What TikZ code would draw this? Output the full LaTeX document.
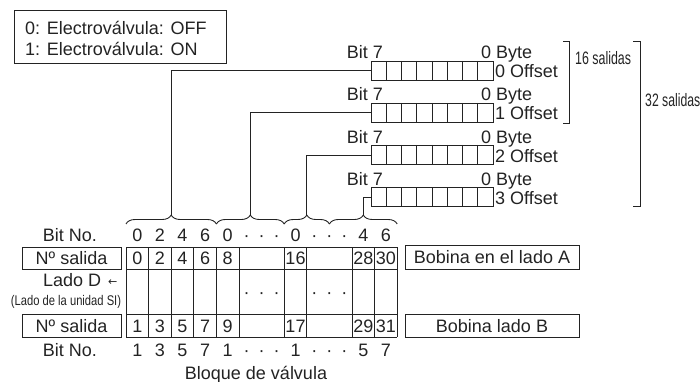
\documentclass[tikz,border=0pt]{standalone}
\usepackage{graphicx}
\usepackage{fontspec}
\setmainfont{Liberation Sans}
\newfontfamily\arrowfont{DejaVu Sans}
\usetikzlibrary{decorations.pathreplacing,calc}
\definecolor{ink}{HTML}{232323}
\tikzset{
  txt/.style={inner sep=0pt, font=\fontsize{18}{20}\selectfont, text height=13pt, text depth=0pt},
  framebox/.style={draw, line width=0.9pt, inner sep=0pt},
  bytebox/.style={draw, line width=0.9pt, minimum width=122pt, minimum height=19pt, inner sep=0pt},
  conn/.style={line width=0.9pt},
  bracedec/.style={decorate, decoration={brace, amplitude=9pt}, line width=0.9pt},
  gridline/.style={line width=1pt},
}
\begin{document}
\begin{tikzpicture}[x=1pt,y=-1pt,color=ink]
\useasboundingbox (0,0) rectangle (700,382);

% legend
\node[framebox, minimum width=212pt, minimum height=53pt, anchor=north west] (legend) at (14,10) {};
\node[txt, anchor=west] (l1) at (25,28.5) {0: Electroválvula: OFF};
\node[txt, anchor=west] (l2) at (25,49.5) {1: Electroválvula: ON};

% byte registers
\foreach \k/\T in {0/61,1/103,2/145,3/187} {
  \node[bytebox, anchor=north west] (b\k) at (371,\T) {};
  \foreach \i in {1,...,7}
    \draw[line width=0.9pt] ($(b\k.north west)+(\i*15.25,0)$) -- ($(b\k.south west)+(\i*15.25,0)$);
  \node[txt, anchor=east] (bit\k) at (383,\T-8.5) {Bit 7};
  \node[txt, anchor=west] (byte\k) at (481,\T-8.5) {0 Byte};
  \node[txt, anchor=west] (off\k) at (495,\T+10.5) {\k\ Offset};
}

% brackets
\draw[line width=0.9pt] (563,41) -- (569,41) -- (569,123) -- (563,123);
\draw[line width=0.9pt] (633,41) -- (640,41) -- (640,206) -- (633,206);
\node[txt, anchor=west] (s16) at (575,58) {\scalebox{0.69}[1]{16 salidas}};
\node[txt, anchor=west] (s32) at (645,100) {\scalebox{0.68}[1]{32 salidas}};

% braces
\draw[bracedec] (126,224) -- (216.4,224);
\draw[bracedec] (216.4,224) -- (284.2,224);
\draw[bracedec] (284.2,224) -- (329.4,224);
\draw[bracedec] (329.4,224) -- (397.2,224);
\coordinate (t0) at (171.2,215);
\coordinate (t1) at (250.3,215);
\coordinate (t2) at (306.8,215);
\coordinate (t3) at (363.3,215);

% connectors
\draw[conn] (b0.west) -| (t0);
\draw[conn] (b1.west) -| (t1);
\draw[conn] (b2.west) -| (t2);
\draw[conn] (b3.west) -| (t3);

% table grid
\foreach \u in {0,1,2,3,4,5,7,8,10,11,12}
  \draw[gridline] ({126+22.6*\u},247) -- ({126+22.6*\u},337);
\foreach \y in {247,269,314,337}
  \draw[gridline] (126,\y) -- (397.2,\y);

% top bit numbers
\foreach \u/\t [count=\n] in {0.5/0,1.5/2,2.5/4,3.5/6,4.5/0,7.5/0,10.5/4,11.5/6}
  \node[txt] (tb\n) at ({126+22.6*\u},235) {\t};
\node[txt] (tdA) at (261.6,235) {·\hspace{9pt}·\hspace{9pt}·};
\node[txt] (tdB) at (329.4,235) {·\hspace{9pt}·\hspace{9pt}·};

% row A outputs
\foreach \u/\t [count=\n] in {0.5/0,1.5/2,2.5/4,3.5/6,4.5/8,7.5/16,10.5/28,11.5/30}
  \node[txt] (ra\n) at ({126+22.6*\u},258) {\t};
% middle row dots
\node[txt] (mdA) at (261.6,292) {·\hspace{9pt}·\hspace{9pt}·};
\node[txt] (mdB) at (329.4,292) {·\hspace{9pt}·\hspace{9pt}·};
% row B outputs
\foreach \u/\t [count=\n] in {0.5/1,1.5/3,2.5/5,3.5/7,4.5/9,7.5/17,10.5/29,11.5/31}
  \node[txt] (rb\n) at ({126+22.6*\u},325.5) {\t};

% bottom bit numbers
\foreach \u/\t [count=\n] in {0.5/1,1.5/3,2.5/5,3.5/7,4.5/1,7.5/1,10.5/5,11.5/7}
  \node[txt] (bb\n) at ({126+22.6*\u},349.5) {\t};
\node[txt] (bdA) at (261.6,349.5) {·\hspace{9pt}·\hspace{9pt}·};
\node[txt] (bdB) at (329.4,349.5) {·\hspace{9pt}·\hspace{9pt}·};

% left labels
\node[txt] (bitnoT) at (70,235) {Bit No.};
\node[framebox, txt, minimum width=99pt, minimum height=22pt] (ns1) at (71.5,258) {Nº salida};
\node[txt, anchor=east] (lado) at (117.5,280) {Lado D\hspace{7pt}{\arrowfont\fontsize{11}{11}\selectfont\raisebox{1pt}{←}}};
\node[txt, font=\fontsize{14}{16}\selectfont, text height=10pt] (unidad) at (66,300.5) {\scalebox{0.8}[1]{(Lado de la unidad SI)}};
\node[framebox, txt, minimum width=99pt, minimum height=23pt] (ns2) at (71.5,325.5) {Nº salida};
\node[txt] (bitnoB) at (70,349.5) {Bit No.};

% right labels
\node[framebox, txt, minimum width=174pt, minimum height=24pt] (bobA) at (492,257) {Bobina en el lado A};
\node[framebox, txt, minimum width=174pt, minimum height=23pt] (bobB) at (492,325.5) {Bobina lado B};

% caption
\node[txt] (bloque) at (256,372.5) {Bloque de válvula};
\end{tikzpicture}
\end{document}
